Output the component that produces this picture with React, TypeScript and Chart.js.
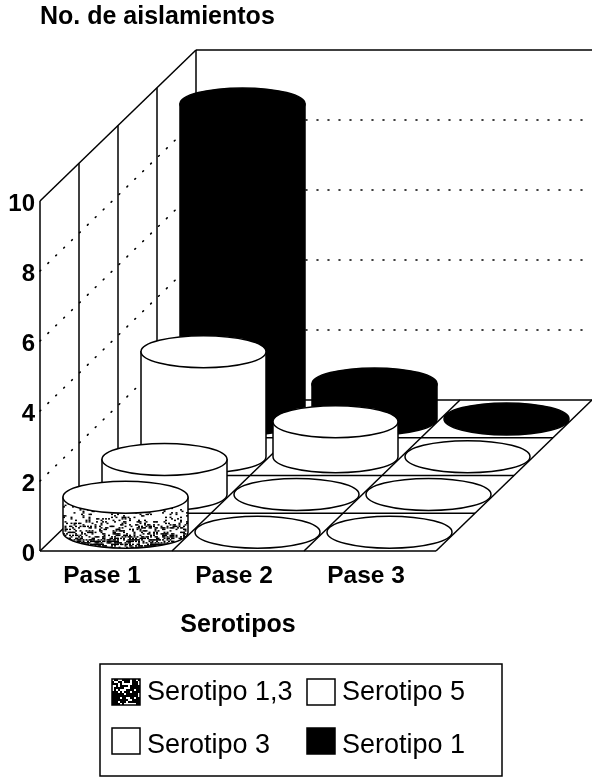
import React, { useEffect, useRef } from "react";
import { Chart, registerables } from "chart.js";

Chart.register(...registerables);

const passes = ["Pase 1", "Pase 2", "Pase 3"];
const seriesNames = ["Serotipo 1,3", "Serotipo 5", "Serotipo 3", "Serotipo 1"];
const serotipo13 = [1, 0, 0];
const serotipo5 = [1, 0, 0];
const serotipo3 = [3, 1, 0];
const serotipo1 = [9, 1, 0];
const yMax = 10;
const yStep = 2;
const xTitle = "Serotipos";
const yTitle = "No. de aislamientos";

const FONT = "'Liberation Sans', Arial, sans-serif";
const DX = 39;
const DY = 37.75;
const RX = 62.5;
const RY = 16;
const LW = 1.5;

function hash(x: number, y: number) {
  let h = (x * 374761393 + y * 668265263) | 0;
  h = Math.imul(h ^ (h >>> 13), 1274126177);
  return ((h ^ (h >>> 16)) >>> 0) / 4294967296;
}

function speckle(ctx: CanvasRenderingContext2D, x0: number, y0: number, w: number, h: number, density: (t: number) => number) {
  ctx.fillStyle = "#000";
  for (let y = 0; y < h; y += 1.5) {
    for (let x = 0; x < w; x += 1.5) {
      if (hash(Math.round(x * 2), Math.round(y * 2)) < density(y / h)) ctx.fillRect(x0 + x, y0 + y, 2, 1.5);
    }
  }
}

function cylinder(ctx: CanvasRenderingContext2D, cx: number, baseY: number, topY: number, kind: number) {
  const black = kind === 3;
  const textured = kind === 0;
  ctx.lineWidth = LW;
  ctx.strokeStyle = "#000";
  const h = baseY - topY;
  if (h > 0) {
    ctx.beginPath();
    ctx.moveTo(cx - RX, topY);
    ctx.lineTo(cx - RX, baseY);
    ctx.ellipse(cx, baseY, RX, RY, 0, Math.PI, 0, true);
    ctx.lineTo(cx + RX, topY);
    ctx.closePath();
    ctx.fillStyle = black ? "#000" : "#fff";
    ctx.fill();
    if (textured) {
      ctx.save();
      ctx.clip();
      speckle(ctx, cx - RX, topY, RX * 2, h + RY, (t) => 0.03 + 0.6 * Math.pow(t, 1.6));
      ctx.restore();
    }
    ctx.stroke();
  }
  ctx.beginPath();
  ctx.ellipse(cx, topY, RX, RY, 0, 0, Math.PI * 2);
  ctx.fillStyle = black ? "#000" : "#fff";
  ctx.fill();
  ctx.stroke();
}

const scene = {
  id: "scene",
  beforeDatasetsDraw(chart: any) {
    const { ctx, scales } = chart;
    const xs = scales.x;
    const ys = scales.y;
    const band = xs.getPixelForValue(1) - xs.getPixelForValue(0);
    const edge = (i: number) => xs.getPixelForValue(0) - band / 2 + i * band;
    const rows = chart.data.datasets.length;
    const y0 = ys.getPixelForValue(0);
    const yTop = ys.getPixelForValue(yMax);
    const right = 592;
    ctx.save();
    ctx.strokeStyle = "#000";
    ctx.lineWidth = LW;
    const line = (a: number, b: number, c: number, d: number) => {
      ctx.beginPath();
      ctx.moveTo(a, b);
      ctx.lineTo(c, d);
      ctx.stroke();
    };
    // dotted grid on the two walls
    ctx.lineCap = "round";
    ctx.lineWidth = 1.6;
    ctx.setLineDash([1, 10]);
    for (let v = yStep; v < yMax; v += yStep) {
      const y = ys.getPixelForValue(v);
      line(edge(0), y, edge(0) + rows * DX, y - rows * DY);
      line(edge(0) + rows * DX, y - rows * DY, right, y - rows * DY);
    }
    ctx.setLineDash([]);
    ctx.lineCap = "butt";
    ctx.lineWidth = LW;
    // left wall uprights
    for (let r = 0; r <= rows; r++) line(edge(0) + r * DX, y0 - r * DY, edge(0) + r * DX, yTop - r * DY);
    line(edge(0), yTop, edge(0) + rows * DX, yTop - rows * DY);
    line(edge(0) + rows * DX, yTop - rows * DY, right, yTop - rows * DY);
    // floor
    for (let r = 0; r <= rows; r++) line(edge(0) + r * DX, y0 - r * DY, edge(passes.length) + r * DX, y0 - r * DY);
    for (let i = 0; i <= passes.length; i++) line(edge(i), y0, edge(i) + rows * DX, y0 - rows * DY);
    // cylinders, back row first
    for (let r = rows - 1; r >= 0; r--) {
      const values = chart.data.datasets[r].data as number[];
      values.forEach((v, i) => {
        const cx = xs.getPixelForValue(i) + (r + 0.5) * DX;
        const off = (r + 0.5) * DY;
        cylinder(ctx, cx, y0 - off, ys.getPixelForValue(v) - off, r);
      });
    }
    ctx.restore();
  },
  afterDraw(chart: any) {
    const { ctx } = chart;
    const names = chart.data.datasets.map((d: any) => d.label);
    ctx.save();
    ctx.strokeStyle = "#000";
    ctx.lineWidth = LW;
    ctx.strokeRect(100, 664, 402, 112);
    const cols = [112, 307];
    const rowY = [679, 728];
    const textY = [693, 746];
    // order in the box: 1,3 | 5 / 3 | 1
    const cells = [
      [0, 0, 0],
      [1, 1, 0],
      [2, 0, 1],
      [3, 1, 1],
    ];
    ctx.font = `27px ${FONT}`;
    ctx.textBaseline = "middle";
    ctx.textAlign = "left";
    cells.forEach(([s, c, r]) => {
      const x = cols[c];
      const y = rowY[r];
      ctx.fillStyle = s === 3 ? "#000" : "#fff";
      ctx.fillRect(x, y, 28, 26);
      if (s === 0) {
        ctx.fillStyle = "#000";
        ctx.fillRect(x, y, 28, 26);
        ctx.fillStyle = "#fff";
        for (let b = 0; b < 26; b += 2) for (let a = 0; a < 28; a += 2) {
          if (hash(a * 3, b * 5) < 0.35) ctx.fillRect(x + a, y + b, 2, 2);
        }
      }
      ctx.strokeRect(x, y, 28, 26);
      ctx.fillStyle = "#000";
      ctx.fillText(names[s], c === 0 ? 147 : 342, textY[r]);
    });
    ctx.restore();
  },
};

export default function App() {
  const ref = useRef<HTMLCanvasElement>(null);
  useEffect(() => {
    const chart = new Chart(ref.current as HTMLCanvasElement, {
      type: "line",
      data: {
        labels: passes,
        datasets: [serotipo13, serotipo5, serotipo3, serotipo1].map((data, i) => ({
          label: seriesNames[i],
          data,
          showLine: false,
          pointRadius: 0,
        })),
      },
      plugins: [scene],
      options: {
        animation: false,
        responsive: false,
        layout: { padding: { right: 156 } },
        plugins: {
          legend: { display: false },
          tooltip: { enabled: false },
          title: {
            display: true,
            text: yTitle,
            align: "start",
            fullSize: false,
            color: "#000",
            font: { family: FONT, size: 25, weight: "bold", lineHeight: 1.2 },
            padding: { top: 2, bottom: 169 },
          },
        },
        scales: {
          x: {
            type: "category",
            offset: true,
            grid: { display: false, drawTicks: false },
            border: { display: false },
            ticks: { color: "#000", font: { family: FONT, size: 24.5, weight: "bold" }, padding: 11, labelOffset: -4, maxRotation: 0 },
            title: {
              display: true,
              text: xTitle,
              color: "#000",
              font: { family: FONT, size: 25, weight: "bold", lineHeight: 1.2 },
              padding: { top: 0, bottom: 138 },
            },
            afterFit: (s: any) => {
              s.height = 227;
            },
          },
          y: {
            type: "linear",
            min: 0,
            max: yMax,
            grid: { display: false, drawTicks: false },
            border: { display: false },
            ticks: { stepSize: yStep, color: "#000", font: { family: FONT, size: 24, weight: "bold" }, padding: 5, labelOffset: 3 },
            afterFit: (s: any) => {
              s.width = 40;
            },
          },
        },
      },
    } as any);
    return () => chart.destroy();
  }, []);
  return <canvas ref={ref} width={592} height={778} style={{ position: "absolute", left: 0, top: 0, display: "block" }} />;
}
